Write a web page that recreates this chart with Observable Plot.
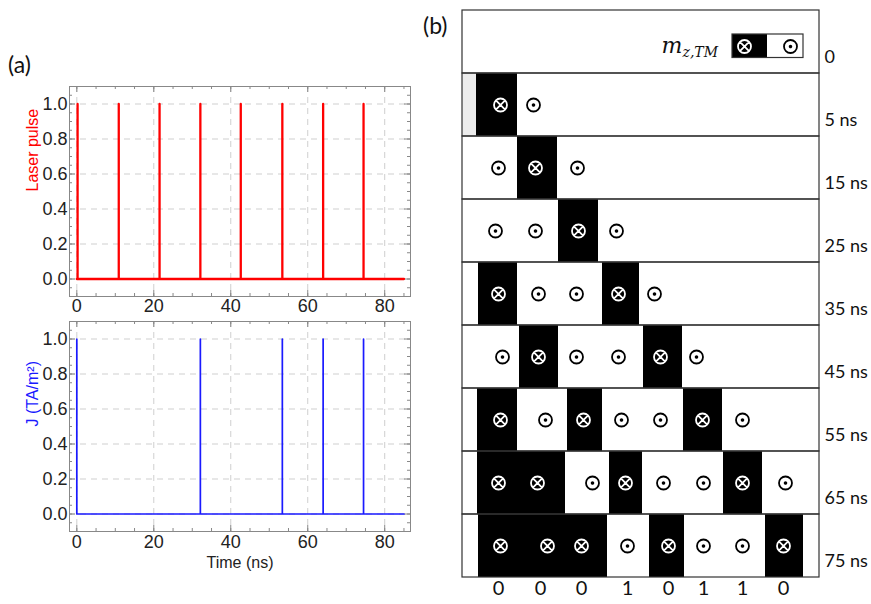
<!DOCTYPE html>
<html><head><meta charset="utf-8">
<script src="https://cdn.jsdelivr.net/npm/d3@7"></script>
<script src="https://cdn.jsdelivr.net/npm/@observablehq/plot@0.6"></script>
<style>
body{margin:0;background:#fff;}
#fig{position:relative;width:871px;height:604px;overflow:hidden;font-family:Lato,sans-serif;background:#fff;}
.abs{position:absolute;}
.plabel{font-family:Lato,sans-serif;font-size:23px;color:#111;line-height:26px;}
</style></head><body><div id="fig"></div>
<script>
// ---------- Panel (a) data ----------
const timeEnd = 85;
const laserTimes = [0.2, 10.9, 21.5, 32.1, 42.6, 53.4, 64.0, 74.5];
const currentTimes = [0.0, 32.1, 53.4, 64.0, 74.5];
const timeTicks = [0, 20, 40, 60, 80];
const valueTicks = [0, 0.2, 0.4, 0.6, 0.8, 1.0];
const timeMinor = d3.range(0, 86, 5);
const valueMinor = d3.range(-0.1, 1.11, 0.05).map(v => +v.toFixed(2));

// ---------- Panel (b) data ----------
const rowLabels = ["0", "5 ns", "15 ns", "25 ns", "35 ns", "45 ns", "55 ns", "65 ns", "75 ns"];
const blackDomains = [
  [],
  [[14, 55]],
  [[55, 95]],
  [[96, 136]],
  [[16, 55], [140, 177]],
  [[57, 96], [181, 220]],
  [[15, 55], [105, 140], [221, 260]],
  [[15, 103], [147, 180], [261, 300]],
  [[16, 145], [187, 222], [303, 341]]
];
const greyEdges = [[], [[0, 14]], [], [], [], [], [], [], []];
const spinX = [
  [],
  [38, 71],
  [36, 73, 115],
  [33, 73, 116, 154],
  [36, 76, 114, 156, 192],
  [40, 76, 114, 156, 198, 234],
  [38, 83, 121, 159, 198, 240, 280],
  [36, 75, 130, 163, 201, 241, 280, 323],
  [38, 85, 119, 165, 206, 241, 280, 321]
];
const spinState = ["", "⊗⊙", "⊙⊗⊙", "⊙⊙⊗⊙", "⊗⊙⊙⊗⊙", "⊙⊗⊙⊙⊗⊙", "⊗⊙⊗⊙⊙⊗⊙", "⊗⊗⊙⊗⊙⊙⊗⊙", "⊗⊗⊗⊙⊗⊙⊙⊗"];
const bitLabels = ["0", "0", "0", "1", "0", "1", "1", "0"];
const bitX = [36, 78, 119, 165, 206, 241, 280, 321];
const legendEdges = [270, 305, 341];
const legendSpinX = [282, 328];
const legendSpinState = "⊗⊙";
const xExtent = 357;

// ---------- helpers ----------
const fig = document.getElementById("fig");
function place(el, left, top) {
  const d = document.createElement("div");
  d.className = "abs"; d.style.left = left + "px"; d.style.top = top + "px";
  d.appendChild(el); fig.appendChild(d); return d;
}
function pulseTrain(times) {
  const pts = [{t: 0, v: 0}];
  for (const t of times) pts.push({t, v: 0}, {t, v: 1}, {t, v: 0});
  pts.push({t: timeEnd, v: 0});
  return pts;
}
const FW = 341, FH = 210;
function pulsePlot({times, color, sw, label, height, marginBottom, tickPad, xlabel}) {
  const marks = [
    Plot.gridX(timeTicks, {stroke: "#cfcfcf", strokeOpacity: 1, strokeDasharray: "6,5"}),
    Plot.gridY(valueTicks, {stroke: "#cfcfcf", strokeOpacity: 1, strokeDasharray: "6,5"}),
    Plot.frame({stroke: "#888"}),
    Plot.tickX(timeMinor, {x: d => d, insetTop: FH - 3, stroke: "#888"}),
    Plot.tickX(timeMinor, {x: d => d, insetBottom: FH - 3, stroke: "#888"}),
    Plot.tickX(timeTicks, {x: d => d, insetTop: FH - 6, stroke: "#888"}),
    Plot.tickX(timeTicks, {x: d => d, insetBottom: FH - 6, stroke: "#888"}),
    Plot.tickY(valueMinor, {y: d => d, insetRight: FW - 3, stroke: "#888"}),
    Plot.tickY(valueMinor, {y: d => d, insetLeft: FW - 3, stroke: "#888"}),
    Plot.tickY(valueTicks, {y: d => d, insetRight: FW - 6, stroke: "#888"}),
    Plot.tickY(valueTicks, {y: d => d, insetLeft: FW - 6, stroke: "#888"}),
    Plot.axisX(timeTicks, {tickSize: 0, tickPadding: tickPad, label: null, fontSize: 18}),
    Plot.axisY(valueTicks, {tickSize: 0, tickPadding: 2, label: null, fontSize: 18, tickFormat: d => d.toFixed(1)}),
    Plot.line(pulseTrain(times), {x: "t", y: "v", stroke: color, strokeWidth: sw}),
    Plot.text([label], {frameAnchor: "left", rotate: -90, dx: -37, fill: color, fontSize: 16})
  ];
  if (xlabel) marks.push(Plot.text([xlabel], {frameAnchor: "bottom", dy: 36, fill: "#222", fontSize: 16}));
  return Plot.plot({
    width: 420, height, marginLeft: 69, marginRight: 10, marginTop: 6, marginBottom,
    x: {domain: [-1.9, 86.7], label: null},
    y: {domain: [-0.1, 1.1], label: null},
    style: {fontFamily: "'Liberation Sans', Arial, sans-serif", fontSize: "18px", color: "#222", background: "transparent"},
    marks
  });
}

// ---------- Panel (a) ----------
const lab = document.createElement("div"); lab.className = "plabel"; lab.textContent = "(a)";
place(lab, 8, 51);
place(pulsePlot({times: laserTimes, color: "#ff0000", sw: 2.3, label: "Laser pulse", height: 240, marginBottom: 24, tickPad: 3}), 0, 80);
place(pulsePlot({times: currentTimes, color: "#1a1aff", sw: 1.7, label: "J (TA/m²)", height: 265, marginBottom: 49, tickPad: 4, xlabel: "Time (ns)"}), 0, 315);

// ---------- Panel (b) ----------
const labB = document.createElement("div"); labB.className = "plabel"; labB.textContent = "(b)";
place(labB, 423, 12);

const domainTable = blackDomains.flatMap((ds, i) => ds.map(([x1, x2]) => ({row: rowLabels[i], x1, x2})));
const greyTable = greyEdges.flatMap((ds, i) => ds.map(([x1, x2]) => ({row: rowLabels[i], x1, x2})));
const spinTable = spinX.flatMap((xs, i) => xs.map((x, j) => ({row: rowLabels[i], x, state: [...spinState[i]][j]})));
const legendBoxes = [{x1: legendEdges[0], x2: legendEdges[1], fill: "black"}, {x1: legendEdges[1], x2: legendEdges[2], fill: "white"}];
const legendSpins = legendSpinX.map((x, j) => ({x, state: [...legendSpinState][j]}));

const crossSymbol = {draw(ctx, size) {
  const r = Math.sqrt(size / Math.PI), a = r * Math.SQRT1_2;
  ctx.moveTo(r, 0); ctx.arc(0, 0, r, 0, 2 * Math.PI);
  ctx.moveTo(-a, -a); ctx.lineTo(a, a); ctx.moveTo(-a, a); ctx.lineTo(a, -a);
}};
const dotSymbol = {draw(ctx, size) {
  const r = Math.sqrt(size / Math.PI), q = r * 0.13;
  ctx.moveTo(r, 0); ctx.arc(0, 0, r, 0, 2 * Math.PI);
  ctx.moveTo(q, 0); ctx.arc(0, 0, q, 0, 2 * Math.PI);
}};
const row0 = () => rowLabels[0];

const panelB = Plot.plot({
  width: 416, height: 604, marginLeft: 7, marginRight: 52, marginTop: 9, marginBottom: 26,
  x: {domain: [0, xExtent], axis: null},
  y: {domain: rowLabels, axis: null, padding: 0},
  style: {fontFamily: "Lato, sans-serif", fontSize: "18px", color: "#111", background: "transparent"},
  marks: [
    Plot.barX(rowLabels, {x1: 0, x2: xExtent, y: d => d, fill: "white"}),
    Plot.barX(greyTable, {x1: "x1", x2: "x2", y: "row", fill: "#ececec"}),
    Plot.barX(domainTable, {x1: "x1", x2: "x2", y: "row", fill: "black"}),
    Plot.barX(rowLabels, {x1: 0, x2: xExtent, y: d => d, fill: "none", stroke: "#333", strokeWidth: 1.2}),
    Plot.dot(spinTable.filter(d => d.state === "⊗"), {x: "x", y: "row", r: 6.5, symbol: crossSymbol, stroke: "white", fill: "none", strokeWidth: 1.8}),
    Plot.dot(spinTable.filter(d => d.state === "⊙"), {x: "x", y: "row", r: 6.5, symbol: dotSymbol, stroke: "black", fill: "none", strokeWidth: 1.8}),
    // legend
    Plot.barX(legendBoxes, {x1: "x1", x2: "x2", y: row0, fill: "fill", insetTop: 24, insetBottom: 15.5}),
    Plot.barX([0], {x1: legendEdges[0], x2: legendEdges[2], y: row0, fill: "none", stroke: "#333", strokeWidth: 1.2, insetTop: 24, insetBottom: 15.5}),
    Plot.dot(legendSpins.filter(d => d.state === "⊗"), {x: "x", y: row0, dy: 4.5, r: 6.5, symbol: crossSymbol, stroke: "white", fill: "none", strokeWidth: 1.8}),
    Plot.dot(legendSpins.filter(d => d.state === "⊙"), {x: "x", y: row0, dy: 4.5, r: 6.5, symbol: dotSymbol, stroke: "black", fill: "none", strokeWidth: 1.8}),
    Plot.text(["m"], {x: 199, y: row0, dy: 11, lineAnchor: "bottom", textAnchor: "start", fontStyle: "italic", fontFamily: "'DejaVu Serif', serif", fontSize: 22, fill: "#111"}),
    Plot.text(["z,TM"], {x: 220, y: row0, dy: 15, lineAnchor: "bottom", textAnchor: "start", fontStyle: "italic", fontFamily: "'DejaVu Serif', serif", fontSize: 14, fill: "#111"}),
    // row labels and bits
    Plot.text(rowLabels, {y: d => d, frameAnchor: "right", dx: 5, dy: 15, textAnchor: "start", fontSize: 18, fill: "#111"}),
    Plot.text(bitLabels, {x: (d, i) => bitX[i], frameAnchor: "bottom", dy: 16, fontSize: 20, fill: "#111"})
  ]
});
place(panelB, 455, 0);
</script></body></html>
